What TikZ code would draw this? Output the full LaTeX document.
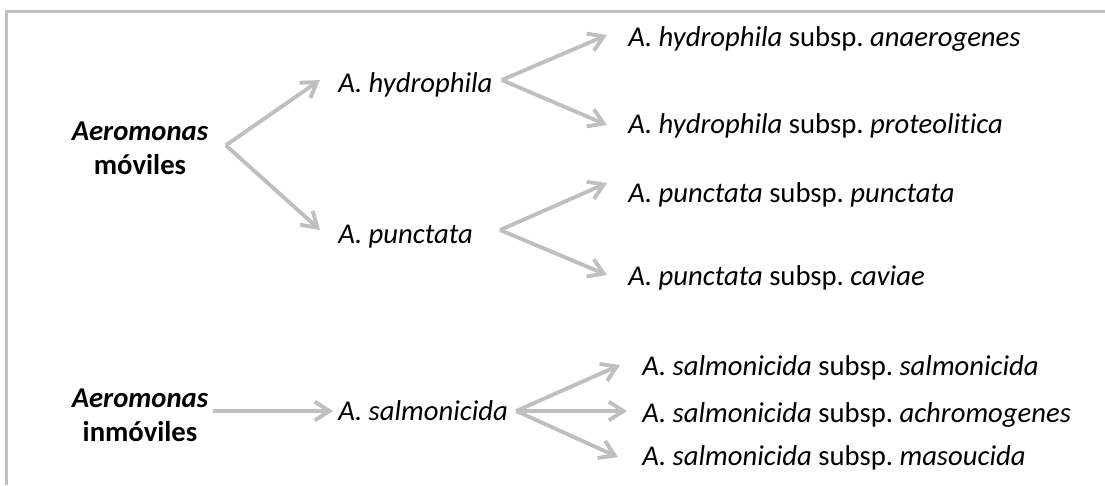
\documentclass[tikz,border=0pt]{standalone}
\usepackage{fontspec}
\setmainfont{Carlito}[Ligatures=NoCommon]
\usetikzlibrary{arrows.meta, positioning, calc}

\definecolor{arrgray}{RGB}{191,191,191}
\definecolor{framegray}{RGB}{192,192,192}
\frenchspacing

\begin{document}
\begin{tikzpicture}[x=0.75pt, y=-0.75pt, >={Straight Barb[length=11pt, width=14pt]},
    arr/.style={->, draw=arrgray, line width=2.9pt},
    lbl/.style={inner sep=0pt, anchor=base west, font=\fontsize{21.5}{25.5}\selectfont},
    grp/.style={inner sep=0pt, align=center, font=\fontsize{21.5}{25.5}\selectfont\bfseries}]
    \useasboundingbox (0,0) rectangle (1105,485);
    % frame
    \draw[framegray, line width=2.3pt] (6.5,485) -- (6.5,11.5) -- (1105,11.5);
    % Aeromonas moviles
    \node[grp] (mov) at (140,148) {\textit{Aeromonas}\\móviles};
    \node[lbl] (hyd) at (338,92) {\textit{A. hydrophila}};
    \node[lbl] (pun) at (338,243) {\textit{A. punctata}};
    \node[lbl] (hyd1) at (628,47) {\textit{A. hydrophila} subsp. \textit{anaerogenes}};
    \node[lbl] (hyd2) at (628,133) {\textit{A. hydrophila} subsp. \textit{proteolitica}};
    \node[lbl] (pun1) at (628,202) {\textit{A. punctata} subsp. \textit{punctata}};
    \node[lbl] (pun2) at (628,285) {\textit{A. punctata} subsp. \textit{caviae}};
    % Aeromonas inmoviles
    \node[grp] (inm) at (140,415) {\textit{Aeromonas}\\inmóviles};
    \node[lbl] (sal) at (338,420) {\textit{A. salmonicida}};
    \node[lbl] (sal1) at (642,375) {\textit{A. salmonicida} subsp. \textit{salmonicida}};
    \node[lbl] (sal2) at (642,422) {\textit{A. salmonicida} subsp. \textit{achromogenes}};
    \node[lbl] (sal3) at (642,465) {\textit{A. salmonicida} subsp. \textit{masoucida}};
    % forks
    \coordinate (movfork) at ([xshift=13pt, yshift=2pt]mov.east);
    \coordinate (hydfork) at ([shift={(9,-12)}]hyd.base east);
    \coordinate (punfork) at ([shift={(27,-13)}]pun.base east);
    \coordinate (salfork) at ([shift={(8,-9)}]sal.base east);
    \coordinate (salin) at ([shift={(-5,-9)}]sal.base west);
    % arrows
    \draw[arr] (movfork) -- ([shift={(-18,-12)}]hyd.base west);
    \draw[arr] (movfork) -- ([shift={(-18,-13)}]pun.base west);
    \draw[arr] (hydfork) -- ([shift={(-21,-12)}]hyd1.base west);
    \draw[arr] (hydfork) -- ([shift={(-21,-8)}]hyd2.base west);
    \draw[arr] (punfork) -- ([shift={(-21,-19)}]pun1.base west);
    \draw[arr] (punfork) -- ([shift={(-21,-10)}]pun2.base west);
    \draw[arr, shorten <=3pt] (inm.east |- salin) -- (salin);
    \draw[arr] (salfork) -- ([shift={(-22,-10)}]sal1.base west);
    \draw[arr] (salfork) -- ([shift={(-15,-11)}]sal2.base west);
    \draw[arr] (salfork) -- ([shift={(-24,-8)}]sal3.base west);
\end{tikzpicture}
\end{document}
